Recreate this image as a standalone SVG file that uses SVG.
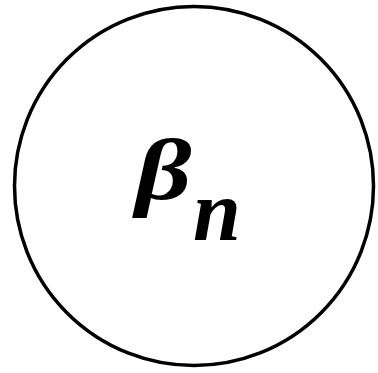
<svg xmlns="http://www.w3.org/2000/svg" width="378" height="373" viewBox="0 0 378 373">
<style>
.t{font-family:'Liberation Serif','Times New Roman',serif;font-weight:700;font-style:italic;fill:#000}
</style>
<rect width="378" height="373" fill="#fff"/>
<g id="node">
<circle cx="194" cy="186" r="179.5" fill="none" stroke="#000" stroke-width="3.5"/>
<text class="t" transform="translate(135.5,199) scale(1.26,1)" x="0" y="0" font-size="87">β</text>
<text class="t" x="193" y="240" font-size="86">n</text>
</g>
<g id="connectors"/>
</svg>
